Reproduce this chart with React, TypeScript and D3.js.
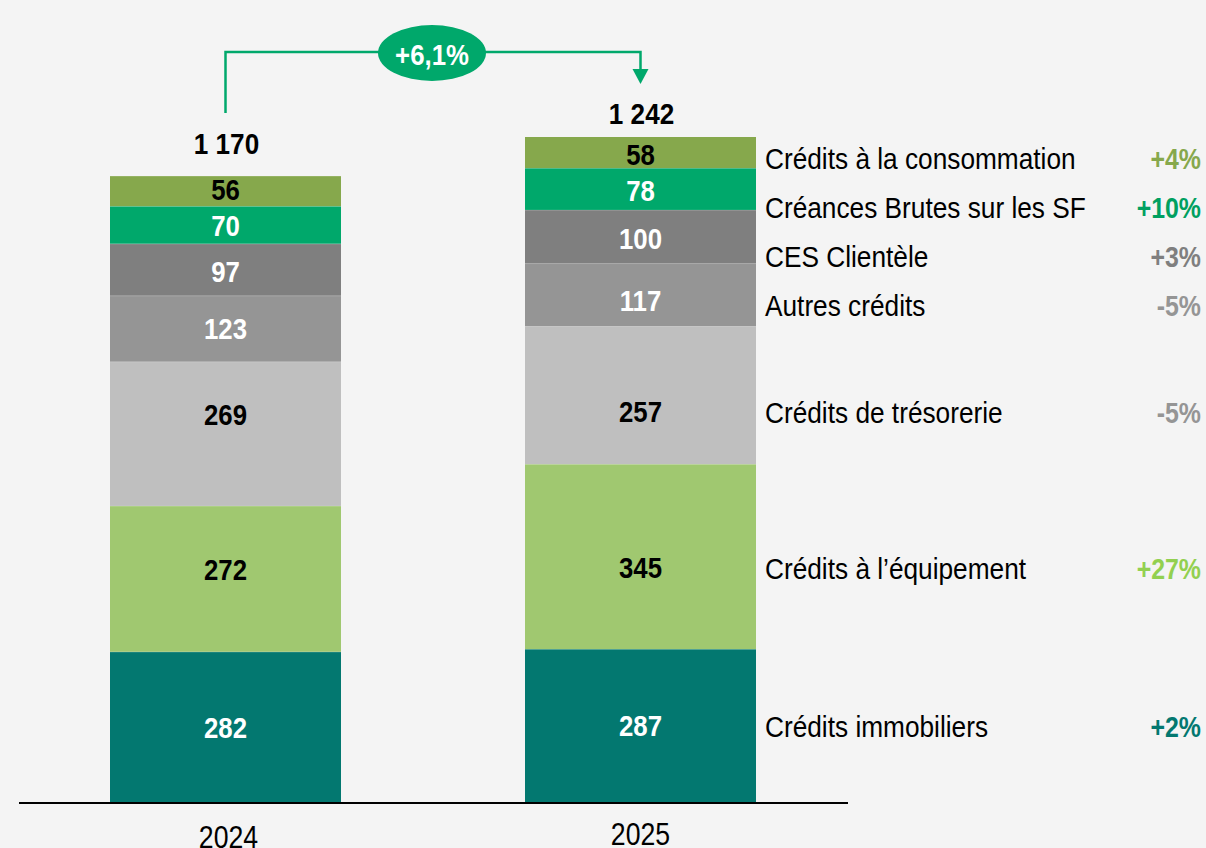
import React, { useEffect } from 'react';
import * as d3 from 'd3';

// categories bottom -> top
const categories = [
  'Crédits immobiliers',
  'Crédits à l’équipement',
  'Crédits de trésorerie',
  'Autres crédits',
  'CES Clientèle',
  'Créances Brutes sur les SF',
  'Crédits à la consommation',
];
const years = ['2024', '2025'];
const values2024 = [282, 272, 269, 123, 97, 70, 56];
const values2025 = [287, 345, 257, 117, 100, 78, 58];
const totals = ['1 170', '1 242'];
const changes = ['+2%', '+27%', '-5%', '-5%', '+3%', '+10%', '+4%'];
const growthLabel = '+6,1%';

const fills = ['#037870', '#a0c870', '#bfbfbf', '#959595', '#7f7f7f', '#00a86b', '#86a84c'];
const labelColors = ['#fff', '#000', '#000', '#fff', '#fff', '#fff', '#000'];
const changeColors = ['#037870', '#92d050', '#959595', '#959595', '#7f7f7f', '#00a060', '#86a84c'];
// label nudges (px) as placed in the original slide
const labelShift = [
  [0, -10, -20, -1, 1, 0, -2],
  [-1, 11, 16, 5, 1, 1, 2],
];

const FONT = '"Liberation Sans", Arial, sans-serif';

// narrow text helper (Arial Narrow not installed, so squeeze horizontally)
const NText = ({ x, y, anchor = 'start', sq = 0.85, children, ...rest }: any) => (
  <text
    transform={`translate(${x},${y}) scale(${sq},1)`}
    textAnchor={anchor}
    dy="0.36em"
    {...rest}
  >
    {children}
  </text>
);

const App = () => {
  useEffect(() => {
    document.body.style.margin = '0';
    document.body.style.background = '#f4f4f4';
  }, []);

  const width = 1206;
  const height = 848;
  const baseY = 803;

  const rows = years.map((yr, i) => {
    const vals = i === 0 ? values2024 : values2025;
    const r: any = { year: yr };
    categories.forEach((c, j) => (r[c] = vals[j]));
    return r;
  });
  const series = d3.stack().keys(categories)(rows);

  const xs = d3.scaleBand().domain(years).range([110, 756]).paddingInner(0.4434).paddingOuter(0);
  const y = d3.scaleLinear().domain([0, d3.sum(values2025)]).range([baseY, 137]);

  const bw = xs.bandwidth();
  const cx = (yr: string) => (xs(yr) as number) + bw / 2;

  const labelY = (j: number, i: number) => {
    const d = series[j][i];
    return (y(d[0]) + y(d[1])) / 2 + labelShift[i][j];
  };

  const legendX = 765;
  const legendY = (j: number) => (j >= 3 ? 158 + (6 - j) * 49 : labelY(j, 1) + 1);

  const x0 = cx('2024');
  const x1 = cx('2025');
  const arrowY = 52;
  const midX = 432;
  const totalY = [143, 113];

  return (
    <svg width={width} height={height} style={{ display: 'block', background: '#f4f4f4' }} fontFamily={FONT}>
      <rect x={0} y={0} width={width} height={height} fill="#f4f4f4" />
      {series.map((s, j) => (
        <g key={categories[j]}>
          {s.map((d, i) => (
            <g key={years[i]}>
              <rect
                x={xs(years[i])}
                y={y(d[1])}
                width={bw}
                height={y(d[0]) - y(d[1])}
                fill={fills[j]}
              />
              {j < categories.length - 1 && (
                <line
                  x1={xs(years[i])}
                  x2={(xs(years[i]) as number) + bw}
                  y1={y(d[1])}
                  y2={y(d[1])}
                  stroke="#ffffff"
                  strokeOpacity={0.35}
                  strokeWidth={1}
                />
              )}
              <NText
                x={cx(years[i])}
                y={labelY(j, i)}
                anchor="middle"
                sq={0.86}
                fontWeight="bold"
                fontSize={30}
                fill={labelColors[j]}
              >
                {d[1] - d[0]}
              </NText>
            </g>
          ))}
        </g>
      ))}
      {/* totals */}
      {years.map((yr, i) => (
        <NText
          key={yr}
          x={cx(yr) + 1}
          y={totalY[i]}
          anchor="middle"
          sq={0.87}
          fontWeight="bold"
          fontSize={30}
          fill="#000"
        >
          {totals[i]}
        </NText>
      ))}
      {/* axis */}
      <line x1={19} x2={848} y1={baseY} y2={baseY} stroke="#000" strokeWidth={2} />
      {years.map((yr, i) => (
        <NText key={yr} x={cx(yr) + (i === 0 ? 3 : 0)} y={i === 0 ? 837 : 834} anchor="middle" sq={0.86} fontSize={31} fill="#000">
          {yr}
        </NText>
      ))}
      {/* growth arrow */}
      <path
        d={`M${x0},113 V${arrowY} H${x1} V70`}
        fill="none"
        stroke="#00a86b"
        strokeWidth={2.5}
      />
      <path d={`M${x1 - 8},69 L${x1 + 8},69 L${x1},84 Z`} fill="#00a86b" />
      <ellipse cx={midX} cy={53} rx={54} ry={28} fill="#00a86b" />
      <NText x={midX} y={54} anchor="middle" sq={0.86} fontWeight="bold" fontSize={30} fill="#fff">
        {growthLabel}
      </NText>
      {/* legend */}
      {categories.map((c, j) => (
        <g key={c}>
          <NText x={legendX} y={legendY(j)} sq={0.875} fontSize={30} fill="#000">
            {c}
          </NText>
          <NText
            x={1201}
            y={legendY(j)}
            anchor="end"
            sq={0.83}
            fontWeight="bold"
            fontSize={30}
            fill={changeColors[j]}
          >
            {changes[j]}
          </NText>
        </g>
      ))}
    </svg>
  );
};

export default App;
